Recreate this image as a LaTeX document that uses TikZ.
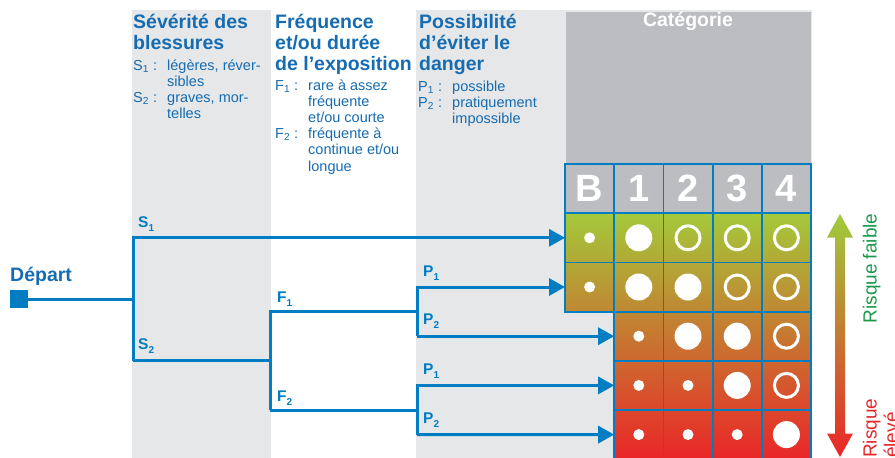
\documentclass[tikz,border=0pt]{standalone}
\usepackage{fontspec}
\setmainfont{Liberation Sans}
\usetikzlibrary{arrows.meta}

\definecolor{treeblue}{RGB}{0,125,195}
\definecolor{textblue}{RGB}{22,108,178}
\definecolor{panelgrey}{RGB}{230,231,233}
\definecolor{catgrey}{RGB}{188,189,192}
\definecolor{riskgreen}{RGB}{164,201,58}
\definecolor{riskorange}{RGB}{210,135,48}
\definecolor{riskred}{RGB}{234,38,40}
\definecolor{arrowgreen}{RGB}{160,204,60}
\definecolor{labelgreen}{RGB}{28,152,76}
\definecolor{labelred}{RGB}{228,38,42}

% tree label with a small lowered index, e.g. S_1
\newcommand{\branchlbl}[2]{#1\raisebox{-4.5pt}{\fontsize{10}{10}\selectfont #2}}
\newcommand{\idx}[1]{\textsubscript{#1}}

\begin{document}
\begin{tikzpicture}[x=1pt,y=-1pt,
  heading/.style={anchor=base west, inner sep=0pt, text=textblue,
    font=\fontsize{19.5}{21}\selectfont\bfseries},
  legend/.style={anchor=base west, inner sep=0pt, text=textblue,
    font=\fontsize{14.5}{16.2}\selectfont},
  branch/.style={anchor=base west, inner sep=0pt, text=treeblue,
    font=\fontsize{15.5}{16}\selectfont\bfseries},
  tree/.style={draw=treeblue, line width=3pt, line join=miter},
  arr/.style={-{Triangle[length=16pt,width=17pt]}},
  cell/.style={rectangle, draw=treeblue, line width=1.8pt,
    minimum width=49.2pt, minimum height=49.2pt, inner sep=0pt, outer sep=0pt},
  headcell/.style={cell, fill=catgrey, text=white,
    font=\fontsize{38}{38}\selectfont\bfseries},
  dotmark/.style={circle, fill=white, minimum size=11pt, inner sep=0pt},
  bigmark/.style={circle, fill=white, minimum size=27pt, inner sep=0pt},
  ringmark/.style={circle, draw=white, line width=3pt, minimum size=24pt, inner sep=0pt},
  startsq/.style={rectangle, fill=treeblue, minimum size=18pt, inner sep=0pt, outer sep=0pt}]

\useasboundingbox (0,0) rectangle (895,458);
\clip (0,0) rectangle (895,458);

% column panels
\fill[panelgrey] (132,10) rectangle (271,460);
\fill[panelgrey] (416,10) rectangle (812,460);
\fill[catgrey] (566,12) rectangle (811,164);
\node[anchor=base, inner sep=0pt, text=white, font=\fontsize{19.5}{21}\selectfont\bfseries]
  (cat) at (688,26.5) {Catégorie};

% column headings
\node[heading] (hS) at (133,28) {\begin{tabular}[t]{@{}l@{}}Sévérité des\\blessures\end{tabular}};
\node[heading] (hF) at (275,28) {\begin{tabular}[t]{@{}l@{}}Fréquence\\et/ou durée\\de l’exposition\end{tabular}};
\node[heading] (hP) at (419,28) {\begin{tabular}[t]{@{}l@{}}Possibilité\\d’éviter le\\danger\end{tabular}};

% legends
\node[legend] (lS) at (133,70) {\begin{tabular}[t]{@{}p{34pt}@{}l@{}}
  S\idx{1} : & légères, réver-\\ & sibles\\
  S\idx{2} : & graves, mor-\\ & telles\end{tabular}};
\node[legend] (lF) at (275,90) {\begin{tabular}[t]{@{}p{33pt}@{}l@{}}
  F\idx{1} : & rare à assez\\ & fréquente\\ & et/ou courte\\
  F\idx{2} : & fréquente à\\ & continue et/ou\\ & longue\end{tabular}};
\node[legend] (lP) at (418,91) {\begin{tabular}[t]{@{}p{34pt}@{}l@{}}
  P\idx{1} : & possible\\
  P\idx{2} : & pratiquement\\ & impossible\end{tabular}};

% risk gradient behind the category grid
\shade[top color=riskgreen, middle color=riskorange, bottom color=riskred]
  (565,213.2) -- (811,213.2) -- (811,459.2) -- (614.2,459.2)
  -- (614.2,311.6) -- (565,311.6) -- cycle;

% category grid
\foreach \c/\t in {0/B,1/1,2/2,3/3,4/4}
  \node[headcell] (c-\c-0) at ({589.6+49.2*\c},188.6) {\t};
\foreach \c in {0,...,4}
  \foreach \r in {1,2}
    \node[cell] (c-\c-\r) at ({589.6+49.2*\c},{188.6+49.2*\r}) {};
\foreach \c in {1,...,4}
  \foreach \r in {3,4,5}
    \node[cell] (c-\c-\r) at ({589.6+49.2*\c},{188.6+49.2*\r}) {};

% marks
\foreach \c/\r in {0/1,0/2,1/3,1/4,2/4,1/5,2/5,3/5}
  \node[dotmark] (m-\c-\r) at (c-\c-\r) {};
\foreach \c/\r in {1/1,1/2,2/2,2/3,3/3,3/4,4/5}
  \node[bigmark] (m-\c-\r) at (c-\c-\r) {};
\foreach \c/\r in {2/1,3/1,4/1,3/2,4/2,4/3,4/4}
  \node[ringmark] (m-\c-\r) at (c-\c-\r) {};

% risk scale arrow
\shade[top color=arrowgreen, middle color=riskorange, bottom color=riskred]
  (840,214) -- (853,237.5) -- (845,237.5) -- (845,433.5) -- (853,433.5)
  -- (840,457) -- (827,433.5) -- (835,433.5) -- (835,237.5) -- (827,237.5) -- cycle;
\node[rotate=90, anchor=base, inner sep=0pt, text=labelgreen,
  font=\fontsize{19}{21}\selectfont] (low) at (876.5,268.5) {Risque faible};
\node[rotate=90, anchor=base west, inner sep=0pt, text=labelred,
  font=\fontsize{19}{21}\selectfont] (high) at (876.5,458)
  {\begin{tabular}[t]{@{}l@{}}Risque\\élevé\end{tabular}};

% decision tree
\node[startsq] (start) at (19,299.3) {};
\node[heading] (dep) at (10,281) {Départ};
\coordinate (s0) at (133,299.3);
\coordinate (s1) at (133,237.8);
\coordinate (s2) at (133,360.8);
\coordinate (f0) at (270,360.8);
\coordinate (f1) at (270,311.6);
\coordinate (f2) at (270,410);
\coordinate (g1) at (417,311.6);
\coordinate (g1a) at (417,287);
\coordinate (g1b) at (417,336.2);
\coordinate (g2) at (417,410);
\coordinate (g2a) at (417,385.4);
\coordinate (g2b) at (417,434.6);

\draw[tree] (start.east) -- (s0);
\draw[tree, arr] (s2) -- (s1) -- (c-0-1.west);
\draw[tree] (s2) -- (f0);
\draw[tree] (f2) -- (f1) -- (g1);
\draw[tree] (f2) -- (g2);
\draw[tree, arr] (g1b) -- (g1a) -- (c-0-2.west);
\draw[tree, arr] (g1b) -- (c-1-3.west);
\draw[tree, arr] (g2b) -- (g2a) -- (c-1-4.west);
\draw[tree, arr] (g2b) -- (c-1-5.west);

% branch labels
\node[branch] (bS1) at (138,227) {\branchlbl{S}{1}};
\node[branch] (bS2) at (138,349) {\branchlbl{S}{2}};
\node[branch] (bF1) at (277,302) {\branchlbl{F}{1}};
\node[branch] (bF2) at (277,401) {\branchlbl{F}{2}};
\node[branch] (bP1a) at (423,276) {\branchlbl{P}{1}};
\node[branch] (bP2a) at (423,324) {\branchlbl{P}{2}};
\node[branch] (bP1b) at (423,374) {\branchlbl{P}{1}};
\node[branch] (bP2b) at (423,423) {\branchlbl{P}{2}};
\end{tikzpicture}
\end{document}
